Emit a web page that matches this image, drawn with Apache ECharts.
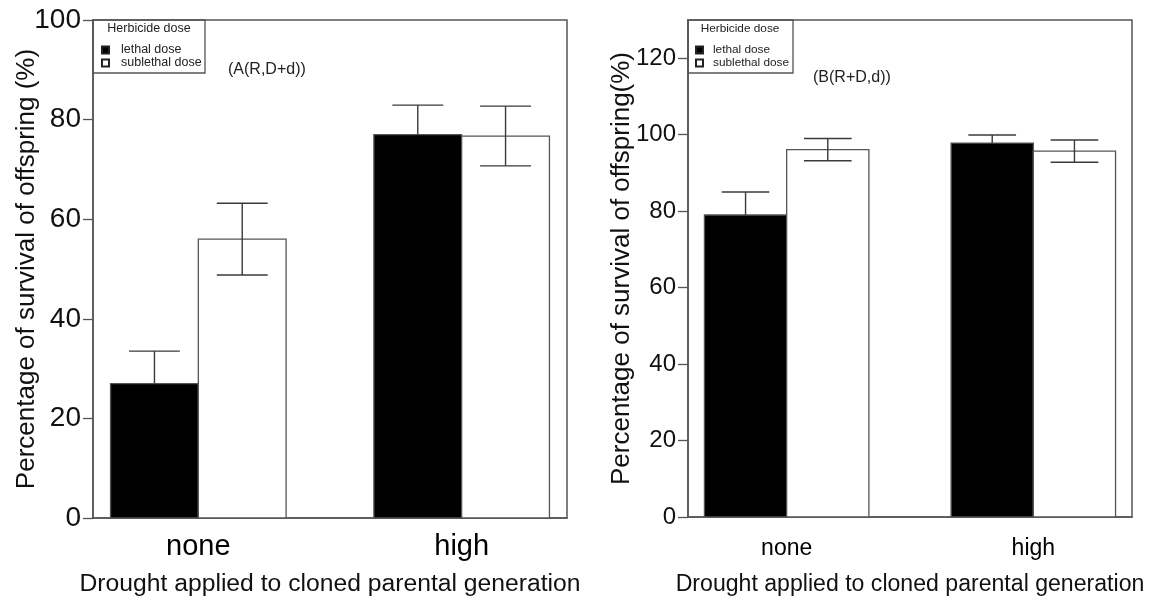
<!DOCTYPE html>
<html>
<head>
<meta charset="utf-8">
<script src="https://cdn.jsdelivr.net/npm/echarts@6/dist/echarts.min.js"></script>
<style>
html,body{margin:0;padding:0;background:#fff;}
#chart{width:1156px;height:603px;}
</style>
</head>
<body>
<div id="chart"></div>
<script>
// ---- data ----
const categories = ['none', 'high'];
const seriesNames = ['lethal dose', 'sublethal dose'];
const legendTitle = 'Herbicide dose';
const xTitle = 'Drought applied to cloned parental generation';
const yTitleA = 'Percentage of survival of offspring (%)';
const yTitleB = 'Percentage of survival of offspring(%)';
const panelLabelA = '(A(R,D+d))';
const panelLabelB = '(B(R+D,d))';

const aLethal = [27.0, 77.0];
const aLethalErr = [6.5, 5.9];
const aSublethal = [56.0, 76.7];
const aSublethalErr = [7.2, 6.0];

const bLethal = [79.0, 97.8];
const bLethalErr = [6.0, 2.1];
const bSublethal = [96.1, 95.7];
const bSublethalErr = [2.9, 2.9];

const aTicks = [0, 20, 40, 60, 80, 100];
const bTicks = [0, 20, 40, 60, 80, 100, 120];

// ---- rendering ----
const FONT = '"Liberation Sans", Arial, sans-serif';
const fills = ['#000000', '#ffffff'];

function makeRender(sIdx, isLethal) {
  return function (params, api) {
    const g = api.value(0), v = api.value(1), e = api.value(2);
    const xl = 1 + 3 * g + sIdx;
    const p0 = api.coord([xl, 0]);
    const p1 = api.coord([xl + 1, v]);
    const xc = xl + 0.5;
    const top = api.coord([xc, v + e]);
    const bot = api.coord([xc, isLethal ? v : v - e]);
    const capL = api.coord([xc - 0.29, v + e]);
    const capR = api.coord([xc + 0.29, v + e]);
    const capLb = api.coord([xc - 0.29, v - e]);
    const capRb = api.coord([xc + 0.29, v - e]);
    const lineStyle = { stroke: '#3a3a3a', lineWidth: 1.4 };
    const children = [
      { type: 'rect', shape: { x: p0[0], y: p1[1], width: p1[0] - p0[0], height: p0[1] - p1[1] },
        style: { fill: fills[sIdx], stroke: '#555', lineWidth: 1.3 } },
      { type: 'line', shape: { x1: top[0], y1: top[1], x2: bot[0], y2: bot[1] }, style: lineStyle },
      { type: 'line', shape: { x1: capL[0], y1: capL[1], x2: capR[0], y2: capR[1] }, style: lineStyle }
    ];
    if (!isLethal) {
      children.push({ type: 'line', shape: { x1: capLb[0], y1: capLb[1], x2: capRb[0], y2: capRb[1] }, style: lineStyle });
    }
    return { type: 'group', children: children };
  };
}

function seriesFor(name, sIdx, vals, errs, axisIdx) {
  return {
    type: 'custom', name: name,
    xAxisIndex: axisIdx, yAxisIndex: axisIdx,
    encode: { x: 0, y: 1 },
    itemStyle: { color: fills[sIdx], borderColor: '#222', borderWidth: 1 },
    data: categories.map((c, i) => [i, vals[i], errs[i]]),
    renderItem: makeRender(sIdx, sIdx === 0)
  };
}

function xAxisFor(idx, labelSize, labelMargin, titleSize, titleGap) {
  return {
    type: 'value', gridIndex: idx, min: 0.8, max: 6.2,
    axisLine: { show: true, lineStyle: { color: '#555', width: 1.5 } },
    axisTick: { show: false },
    splitLine: { show: false },
    axisLabel: {
      customValues: [2, 5],
      formatter: function (v) { return categories[Math.round((v - 2) / 3)]; },
      fontSize: labelSize, color: '#000', fontFamily: FONT, margin: labelMargin
    },
    name: xTitle, nameLocation: 'middle', nameGap: titleGap, nameMoveOverlap: false,
    nameTextStyle: { fontSize: titleSize, color: '#111', fontFamily: FONT }
  };
}

function yAxisFor(idx, max, ticks, labelSize, title, titleGap) {
  return {
    type: 'value', gridIndex: idx, min: 0, max: max,
    axisLine: { show: true, lineStyle: { color: '#555', width: 1.5 } },
    axisTick: { show: true, customValues: ticks, length: 10, lineStyle: { color: '#555', width: 1.3 } },
    splitLine: { show: false },
    axisLabel: { customValues: ticks, fontSize: labelSize, color: '#111', fontFamily: FONT, margin: 12 },
    name: title, nameLocation: 'middle', nameRotate: 90, nameGap: titleGap, nameMoveOverlap: false,
    nameTextStyle: { fontSize: 26, color: '#111', fontFamily: FONT }
  };
}

function legendFor(left, fontSize, textPad) {
  return {
    data: seriesNames, orient: 'vertical', left: left, top: 38.5,
    icon: 'rect', itemWidth: 7, itemHeight: 7, itemGap: 0, selectedMode: false,
    textStyle: { fontSize: fontSize, lineHeight: 13, color: '#222', fontFamily: FONT, padding: [0, 0, 0, textPad] }
  };
}

const chart = echarts.init(document.getElementById('chart'), null, { renderer: 'canvas' });
chart.setOption({
  animation: false,
  backgroundColor: '#fff',
  grid: [
    { left: 93, top: 20, width: 474, height: 498, show: true, borderColor: '#555', borderWidth: 1.5, containLabel: false },
    { left: 688, top: 20, width: 444, height: 497, show: true, borderColor: '#555', borderWidth: 1.5, containLabel: false }
  ],
  xAxis: [xAxisFor(0, 29, 14, 24.7, 54), xAxisFor(1, 23, 20, 23.1, 56)],
  yAxis: [yAxisFor(0, 100, aTicks, 28, yTitleA, 53), yAxisFor(1, 130, bTicks, 24, yTitleB, 53)],
  legend: [legendFor(96, 12.5, 7), legendFor(690, 11.8, 5)],
  graphic: [
    { type: 'rect', shape: { x: 93, y: 20, width: 112, height: 53 }, style: { fill: 'none', stroke: '#555', lineWidth: 1.3 }, z: 10 },
    { type: 'text', x: 149, y: 29, style: { text: legendTitle, fontSize: 12.5, fill: '#222', fontFamily: FONT, align: 'center', verticalAlign: 'middle' }, z: 10 },
    { type: 'rect', shape: { x: 688, y: 20, width: 105, height: 53 }, style: { fill: 'none', stroke: '#555', lineWidth: 1.3 }, z: 10 },
    { type: 'text', x: 740, y: 29, style: { text: legendTitle, fontSize: 11.8, fill: '#222', fontFamily: FONT, align: 'center', verticalAlign: 'middle' }, z: 10 },
    { type: 'text', x: 228, y: 70, style: { text: panelLabelA, fontSize: 16, fill: '#222', fontFamily: FONT, align: 'left', verticalAlign: 'middle' }, z: 10 },
    { type: 'text', x: 813, y: 78, style: { text: panelLabelB, fontSize: 16, fill: '#222', fontFamily: FONT, align: 'left', verticalAlign: 'middle' }, z: 10 }
  ],
  series: [
    seriesFor(seriesNames[0], 0, aLethal, aLethalErr, 0),
    seriesFor(seriesNames[1], 1, aSublethal, aSublethalErr, 0),
    seriesFor(seriesNames[0], 0, bLethal, bLethalErr, 1),
    seriesFor(seriesNames[1], 1, bSublethal, bSublethalErr, 1)
  ]
});
</script>
</body>
</html>
